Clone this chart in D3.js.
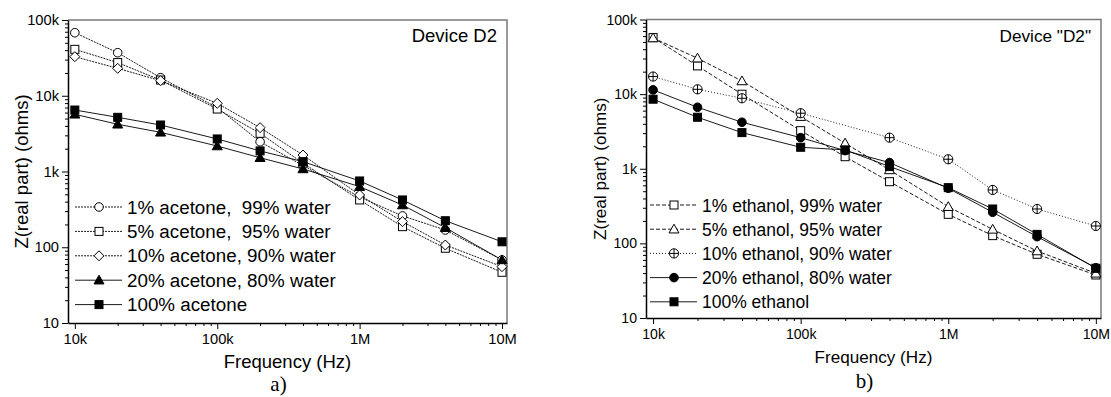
<!DOCTYPE html>
<html>
<head>
<meta charset="utf-8">
<script src="https://cdn.jsdelivr.net/npm/d3@7"></script>
<style>
  body { margin: 0; background: #fff; }
  svg { display: block; font-family: Arial, "Liberation Sans", sans-serif; }
</style>
</head>
<body>
<svg id="chart" width="1111" height="397"></svg>
<script>
// frequencies (Hz) shared by both panels
var freqs = [1e4, 2e4, 4e4, 1e5, 2e5, 4e5, 1e6, 2e6, 4e6, 1e7];

// panel a) acetone
var acetone1 = [67900, 37000, 17300, 7000, 2470, 1200, 460, 259, 169, 68];
var acetone5 = [41000, 27400, 16100, 6680, 3190, 1290, 421, 187, 97, 46.7];
var acetone10 = [32800, 23000, 15800, 7940, 3790, 1650, 490, 218, 107, 55.4];
var acetone20 = [5690, 4200, 3290, 2170, 1520, 1080, 631, 361, 181, 68];
var acetone100 = [6480, 5190, 4110, 2690, 1870, 1350, 750, 421, 224, 118];
var acetoneLabels = ["1% acetone,  99% water", "5% acetone,  95% water", "10% acetone, 90% water",
                     "20% acetone, 80% water", "100% acetone"];

// panel b) ethanol
var ethanol1 = [57200, 23900, 9970, 3240, 1450, 671, 245, 127, 71.4, 37.7];
var ethanol5 = [56500, 30300, 15000, 4990, 2200, 964, 310, 154, 79, 39.7];
var ethanol10 = [17200, 11600, 8800, 5550, null, 2610, 1340, 520, 289, 171];
var ethanol20 = [11400, 6670, 4200, 2610, 1750, 1210, 547, 261, 123, 47.2];
var ethanol100 = [8550, 4900, 3050, 1940, 1790, 1070, 558, 289, 132, 46.4];
var ethanolLabels = ["1% ethanol, 99% water", "5% ethanol, 95% water", "10% ethanol, 90% water",
                     "20% ethanol, 80% water", "100% ethanol"];

var yMajor = [10, 100, 1e3, 1e4, 1e5];
var yMajorLabels = ["10", "100", "1k", "10k", "100k"];
var xMajor = [1e4, 1e5, 1e6, 1e7];
var xMajorLabels = ["10k", "100k", "1M", "10M"];

var svg = d3.select("#chart");

// marker shapes
function marker(g, type, x, y) {
    var s;
    if (type == "circle" || type == "dot") {
        g.append("circle").attr("cx", x).attr("cy", y).attr("r", 4.3)
            .attr("fill", type == "dot" ? "#000" : "#fff").attr("stroke", "#000").attr("stroke-width", 1);
    } else if (type == "cross") {
        g.append("circle").attr("cx", x).attr("cy", y).attr("r", 4.6)
            .attr("fill", "#fff").attr("stroke", "#000").attr("stroke-width", 1);
        g.append("path").attr("d", `M${x - 4.6},${y}H${x + 4.6}M${x},${y - 4.6}V${y + 4.6}`)
            .attr("stroke", "#000").attr("stroke-width", 1);
    } else if (type == "square" || type == "fsquare") {
        s = 4;
        g.append("rect").attr("x", x - s).attr("y", y - s).attr("width", 2 * s).attr("height", 2 * s)
            .attr("fill", type == "fsquare" ? "#000" : "#fff").attr("stroke", "#000").attr("stroke-width", 1);
    } else if (type == "diamond") {
        s = 5;
        g.append("path").attr("d", `M${x},${y - s}L${x + s},${y}L${x},${y + s}L${x - s},${y}Z`)
            .attr("fill", "#fff").attr("stroke", "#000").attr("stroke-width", 1);
    } else if (type == "triangle" || type == "ftriangle") {
        s = 5;
        g.append("path").attr("d", `M${x},${y - s}L${x + s},${y + s * 0.75}L${x - s},${y + s * 0.75}Z`)
            .attr("fill", type == "ftriangle" ? "#000" : "#fff").attr("stroke", "#000").attr("stroke-width", 1);
    }
}

function drawPanel(p) {
    var x = d3.scaleLog().domain([Math.pow(10, 3.952), Math.pow(10, 7.035)]).range([p.left, p.right]);
    var y = d3.scaleLog().domain([10, 1e5]).range([p.bottom, p.top]);

    var g = svg.append("g");

    // frame: top and right in grey
    g.append("path")
        .attr("d", `M${p.left},${p.top}H${p.right}V${p.bottom}`)
        .attr("fill", "none").attr("stroke", "#7a7a7a").attr("stroke-width", 1.5);

    // y minor ticks
    var yMinor = [];
    [10, 100, 1000, 10000].forEach(d => { for (var k = 2; k < 10; k++) yMinor.push(d * k); });
    g.append("g")
        .attr("transform", `translate(${p.left},0)`)
        .call(d3.axisLeft(y).tickValues(yMinor).tickSize(3).tickFormat(""))
        .call(a => a.select(".domain").remove());
    g.append("g")
        .attr("transform", `translate(${p.left},0)`)
        .call(d3.axisLeft(y).tickValues(yMajor).tickSize(6).tickSizeOuter(0).tickPadding(3)
            .tickFormat((d, i) => yMajorLabels[i]))
        .call(a => a.selectAll("text").attr("font-size", p.tickFont).attr("fill", "#000")
            .attr("font-family", "Arial, 'Liberation Sans', sans-serif"))
        .call(a => a.select(".domain").attr("stroke-width", 1.5));

    // x minor ticks
    var xMinor = [];
    [1e4, 1e5, 1e6].forEach(d => { for (var k = 2; k < 10; k++) xMinor.push(d * k); });
    g.append("g")
        .attr("transform", `translate(0,${p.bottom})`)
        .call(d3.axisBottom(x).tickValues(xMinor).tickSize(3).tickFormat(""))
        .call(a => a.select(".domain").remove());
    g.append("g")
        .attr("transform", `translate(0,${p.bottom})`)
        .call(d3.axisBottom(x).tickValues(xMajor).tickSize(6).tickSizeOuter(0).tickPadding(5)
            .tickFormat((d, i) => xMajorLabels[i]))
        .call(a => a.selectAll("text").attr("font-size", p.tickFont).attr("fill", "#000")
            .attr("font-family", "Arial, 'Liberation Sans', sans-serif"))
        .call(a => a.select(".domain").attr("stroke-width", 1.5));

    // series lines and markers
    p.series.forEach(s => {
        var pts = freqs.map((f, i) => ({ f: f, v: s.values[i] })).filter(d => d.v != null);
        var line = d3.line().x(d => x(d.f)).y(d => y(d.v));
        g.append("path")
            .datum(pts)
            .attr("fill", "none")
            .attr("stroke", "#000")
            .attr("stroke-width", 0.9)
            .attr("stroke-dasharray", s.dash)
            .attr("d", line);
    });
    p.series.forEach(s => {
        freqs.forEach((f, i) => {
            if (s.values[i] != null) marker(g, s.marker, x(f), y(s.values[i]));
        });
    });

    // legend
    p.series.forEach((s, i) => {
        var ly = p.legendY + i * p.legendStep;
        g.append("line")
            .attr("x1", p.legendX).attr("x2", p.legendX + 47)
            .attr("y1", ly).attr("y2", ly)
            .attr("stroke", "#000").attr("stroke-width", 0.9)
            .attr("stroke-dasharray", s.dash);
        marker(g, s.marker, p.legendX + 24, ly);
        g.append("text")
            .attr("x", p.legendX + 52).attr("y", ly + 6.5)
            .attr("font-size", p.legendFont)
            .attr("xml:space", "preserve")
            .style("white-space", "pre")
            .text(s.label);
    });

    // device label
    g.append("text")
        .attr("x", p.right - 10).attr("y", p.top + 22)
        .attr("text-anchor", "end").attr("font-size", p.deviceFont)
        .text(p.device);

    // axis titles
    var cx = (p.left + p.right) / 2;
    g.append("text")
        .attr("x", cx).attr("y", p.bottom + 45)
        .attr("text-anchor", "middle").attr("font-size", p.titleFont)
        .text("Frequency (Hz)");
    g.append("text")
        .attr("transform", `translate(${p.left - 40},${(p.top + p.bottom) / 2}) rotate(-90)`)
        .attr("text-anchor", "middle").attr("font-size", p.titleFont)
        .text("Z(real part) (ohms)");
    g.append("text")
        .attr("x", cx - 9).attr("y", p.bottom + p.letterDy)
        .attr("text-anchor", "middle").attr("font-size", 21)
        .attr("font-family", "'Times New Roman', 'Liberation Serif', serif")
        .text(p.letter);
}

drawPanel({
    left: 68, right: 507, top: 20, bottom: 323,
    legendX: 75, legendY: 207, legendStep: 24.4,
    legendFont: 18.8, titleFont: 18.5, deviceFont: 18.5, tickFont: 14.7, letterDy: 68,
    device: "Device D2", letter: "a)",
    series: [
        { values: acetone1, marker: "circle", dash: "2,1", label: acetoneLabels[0] },
        { values: acetone5, marker: "square", dash: "2,1", label: acetoneLabels[1] },
        { values: acetone10, marker: "diamond", dash: "2,1", label: acetoneLabels[2] },
        { values: acetone20, marker: "ftriangle", dash: null, label: acetoneLabels[3] },
        { values: acetone100, marker: "fsquare", dash: null, label: acetoneLabels[4] }
    ]
});

drawPanel({
    left: 646, right: 1101, top: 19.5, bottom: 318,
    legendX: 650, legendY: 205, legendStep: 24.2,
    legendFont: 17.5, titleFont: 17.1, deviceFont: 17.2, tickFont: 14.1, letterDy: 70,
    device: "Device \"D2\"", letter: "b)",
    series: [
        { values: ethanol1, marker: "square", dash: "4,2", label: ethanolLabels[0] },
        { values: ethanol5, marker: "triangle", dash: "4,2", label: ethanolLabels[1] },
        { values: ethanol10, marker: "cross", dash: "1,2", label: ethanolLabels[2] },
        { values: ethanol20, marker: "dot", dash: null, label: ethanolLabels[3] },
        { values: ethanol100, marker: "fsquare", dash: null, label: ethanolLabels[4] }
    ]
});
</script>
</body>
</html>
